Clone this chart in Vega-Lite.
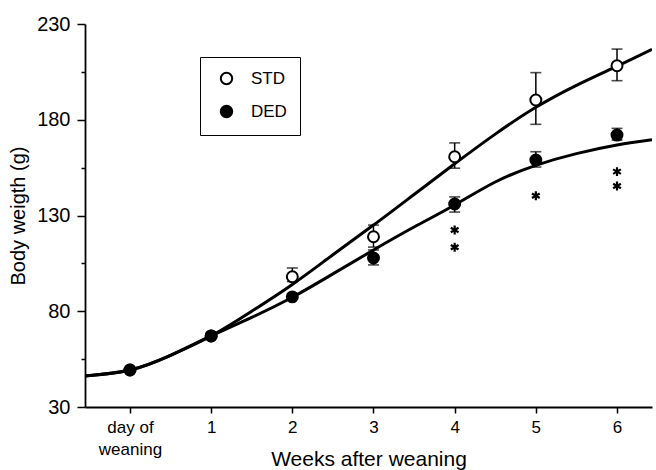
{
  "$schema": "https://vega.github.io/schema/vega-lite/v6.json",
  "width": 567,
  "height": 383,
  "autosize": {"type": "none"},
  "padding": {"left": 85, "top": 24, "right": 4, "bottom": 63},
  "background": "white",
  "config": {
    "view": {"stroke": null},
    "font": "Liberation Sans",
    "axis": {
      "grid": false,
      "domainColor": "black",
      "domainWidth": 1.8,
      "tickColor": "black",
      "tickWidth": 1.5,
      "labelColor": "black",
      "titleColor": "black",
      "labelFont": "Liberation Sans",
      "titleFont": "Liberation Sans",
      "titleFontWeight": "normal"
    }
  },
  "datasets": {
    "curves": [
      {"group": "STD", "week": -0.554, "weight": 46.2},
      {"group": "STD", "week": 0, "weight": 49.3},
      {"group": "STD", "week": 0.5, "weight": 57.0},
      {"group": "STD", "week": 1, "weight": 67.1},
      {"group": "STD", "week": 1.5, "weight": 80.0},
      {"group": "STD", "week": 2, "weight": 94.0},
      {"group": "STD", "week": 2.5, "weight": 109.5},
      {"group": "STD", "week": 3, "weight": 125.0},
      {"group": "STD", "week": 3.5, "weight": 141.0},
      {"group": "STD", "week": 4, "weight": 157.0},
      {"group": "STD", "week": 4.5, "weight": 172.5},
      {"group": "STD", "week": 5, "weight": 186.5},
      {"group": "STD", "week": 5.5, "weight": 198.0},
      {"group": "STD", "week": 6, "weight": 208.0},
      {"group": "STD", "week": 6.431, "weight": 216.8},
      {"group": "DED", "week": -0.554, "weight": 46.2},
      {"group": "DED", "week": 0, "weight": 49.3},
      {"group": "DED", "week": 0.5, "weight": 57.0},
      {"group": "DED", "week": 1, "weight": 67.1},
      {"group": "DED", "week": 1.5, "weight": 76.8},
      {"group": "DED", "week": 2, "weight": 87.3},
      {"group": "DED", "week": 2.5, "weight": 99.5},
      {"group": "DED", "week": 3, "weight": 112.0},
      {"group": "DED", "week": 3.5, "weight": 124.0},
      {"group": "DED", "week": 4, "weight": 135.5},
      {"group": "DED", "week": 4.5, "weight": 147.5},
      {"group": "DED", "week": 5, "weight": 156.2},
      {"group": "DED", "week": 5.5, "weight": 162.3},
      {"group": "DED", "week": 6, "weight": 166.8},
      {"group": "DED", "week": 6.431, "weight": 169.5}
    ],
    "points": [
      {"group": "STD", "week": 0, "mean": 49.3},
      {"group": "STD", "week": 1, "mean": 67.1},
      {"group": "STD", "week": 2, "mean": 98.0, "lo": 95.5, "hi": 102.6},
      {"group": "STD", "week": 3, "mean": 118.9, "lo": 113.5, "hi": 125.0},
      {"group": "STD", "week": 4, "mean": 160.7, "lo": 154.7, "hi": 167.9},
      {"group": "STD", "week": 5, "mean": 190.3, "lo": 177.6, "hi": 204.6},
      {"group": "STD", "week": 6, "mean": 208.2, "lo": 200.4, "hi": 216.9},
      {"group": "DED", "week": 0, "mean": 49.3},
      {"group": "DED", "week": 1, "mean": 67.1},
      {"group": "DED", "week": 2, "mean": 87.5},
      {"group": "DED", "week": 3, "mean": 107.8, "lo": 104.2, "hi": 112.0},
      {"group": "DED", "week": 4, "mean": 136.0, "lo": 131.8, "hi": 139.7},
      {"group": "DED", "week": 5, "mean": 159.0, "lo": 155.3, "hi": 163.3},
      {"group": "DED", "week": 6, "mean": 172.0, "lo": 169.4, "hi": 175.5}
    ],
    "stars": [
      {"week": 4, "y": 122.4},
      {"week": 4, "y": 113.4},
      {"week": 5, "y": 140.3},
      {"week": 6, "y": 152.9},
      {"week": 6, "y": 145.4}
    ]
  },
  "layer": [
    {
      "data": {"name": "curves"},
      "mark": {"type": "line", "interpolate": "natural", "color": "black", "strokeWidth": 3, "clip": true},
      "encoding": {
        "x": {
          "field": "week", "type": "quantitative",
          "scale": {"domain": [-0.554, 6.431], "nice": false, "zero": false},
          "axis": {
            "values": [0, 1, 2, 3, 4, 5, 6],
            "format": "d",
            "labelExpr": "datum.value == 0 ? ['day of', 'weaning'] : datum.label",
            "labelFontSize": 17,
            "labelLineHeight": 22,
            "tickSize": 6,
            "labelPadding": 6,
            "title": "Weeks after weaning",
            "titleFontSize": 21,
            "titleBaseline": "alphabetic",
            "titleY": 58
          }
        },
        "y": {
          "field": "weight", "type": "quantitative",
          "scale": {"domain": [30, 230], "nice": false, "zero": false},
          "axis": {
            "values": [30, 55, 80, 105, 130, 155, 180, 205, 230],
            "labelExpr": "datum.value % 50 == 30 ? datum.label : ''",
            "tickSize": {"condition": {"test": "datum.value % 50 == 5", "value": 4}, "value": 8},
            "labelFontSize": 20,
            "labelPadding": 7,
            "title": "Body weigth (g)",
            "titleFontSize": 20,
            "titlePadding": 8
          }
        },
        "detail": {"field": "group"}
      }
    },
    {
      "data": {"name": "points"},
      "mark": {"type": "rule", "color": "black", "strokeWidth": 1.5},
      "encoding": {
        "x": {"field": "week", "type": "quantitative"},
        "y": {"field": "lo", "type": "quantitative"},
        "y2": {"field": "hi"}
      }
    },
    {
      "data": {"name": "points"},
      "transform": [{"fold": ["lo", "hi"], "as": ["end", "val"]}],
      "mark": {"type": "tick", "orient": "horizontal", "color": "black", "size": 11, "thickness": 1.6},
      "encoding": {
        "x": {"field": "week", "type": "quantitative"},
        "y": {"field": "val", "type": "quantitative"}
      }
    },
    {
      "data": {"name": "points"},
      "mark": {"type": "point", "filled": true, "stroke": "black", "strokeWidth": 2, "size": 120, "opacity": 1},
      "encoding": {
        "x": {"field": "week", "type": "quantitative"},
        "y": {"field": "mean", "type": "quantitative"},
        "fill": {
          "field": "group", "type": "nominal",
          "scale": {"domain": ["STD", "DED"], "range": ["white", "black"]},
          "legend": {
            "orient": "none",
            "legendX": 115,
            "legendY": 33,
            "title": null,
            "strokeColor": "black",
            "fillColor": "white",
            "padding": 13,
            "symbolType": "circle",
            "symbolSize": 130,
            "symbolStrokeColor": "black",
            "symbolStrokeWidth": 2,
            "symbolOffset": 5,
            "labelFont": "Liberation Sans",
            "labelFontSize": 17,
            "labelColor": "black",
            "labelOffset": 16,
            "rowPadding": 12
          }
        }
      }
    },
    {
      "data": {"name": "stars"},
      "mark": {
        "type": "point",
        "shape": "M0,-1L0,1M-0.866,-0.5L0.866,0.5M-0.866,0.5L0.866,-0.5",
        "filled": false,
        "stroke": "black",
        "strokeWidth": 2.2,
        "size": 80,
        "opacity": 1
      },
      "encoding": {
        "x": {"field": "week", "type": "quantitative"},
        "y": {"field": "y", "type": "quantitative"}
      }
    }
  ]
}
